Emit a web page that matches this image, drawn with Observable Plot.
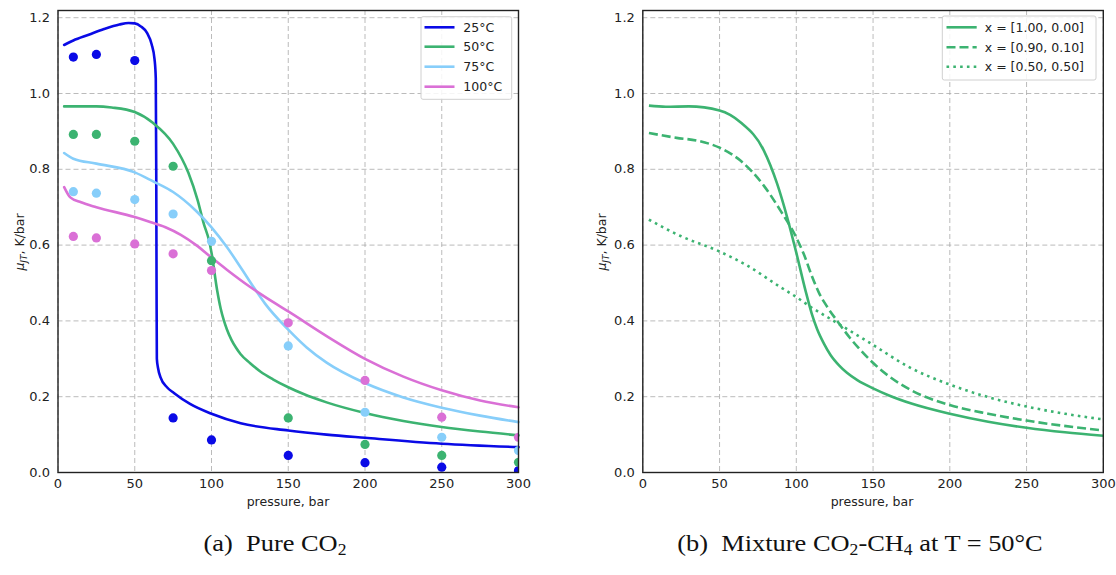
<!DOCTYPE html>
<html><head><meta charset="utf-8">
<script src="https://cdn.jsdelivr.net/npm/d3@7"></script>
<script src="https://cdn.jsdelivr.net/npm/@observablehq/plot@0.6"></script>
<style>
body{margin:0;background:#fff;}
#wrap{position:relative;width:1116px;height:575px;font-family:"DejaVu Sans",sans-serif;overflow:hidden;}
.panel{position:absolute;top:0;}
.caption{position:absolute;top:530px;font-family:"Liberation Serif","Times New Roman",serif;font-size:24px;color:#111;white-space:nowrap;transform:translateX(-50%) scaleX(1.1);}
.caption sub{font-size:16px;vertical-align:-4px;line-height:0;}
</style></head><body><div id="wrap"></div>
<script>
// ---- tick values ----
const xTicks = [0, 50, 100, 150, 200, 250, 300];
const yTicks = [0, 0.2, 0.4, 0.6, 0.8, 1.0, 1.2];

// ---- panel (a): pure CO2, experimental points ----
const pExp = [10, 25, 50, 75, 100, 150, 200, 250, 300];
const exp25 = [1.096, 1.103, 1.087, 0.144, 0.086, 0.045, 0.026, 0.014, 0.005];
const exp50 = [0.892, 0.892, 0.874, 0.808, 0.559, 0.144, 0.074, 0.045, 0.027];
const exp75 = [0.741, 0.737, 0.720, 0.682, 0.610, 0.334, 0.159, 0.093, 0.058];
const exp100 = [0.623, 0.619, 0.603, 0.577, 0.533, 0.395, 0.243, 0.146, 0.093];

// ---- panel (a): model curves ----
const p25 = [4, 10, 20, 30, 40, 46, 50, 54, 58, 61, 62.9, 63.7, 64, 64.2, 64.4, 65.2, 66.8, 71, 75.5, 86, 100, 119, 150, 175, 200, 250, 300];
const mu25 = [1.128, 1.14, 1.155, 1.17, 1.182, 1.186, 1.185, 1.177, 1.16, 1.13, 1.09, 1.04, 0.8, 0.5, 0.3, 0.275, 0.251, 0.225, 0.21, 0.181, 0.155, 0.13, 0.111, 0.1, 0.0915, 0.076, 0.067];
const p50 = [4, 15, 25, 35, 50, 62, 75, 85, 91, 95, 98.4, 100, 103.7, 106, 108, 110, 113, 116, 119, 125, 132, 140, 150, 160, 175, 200, 225, 250, 275, 300];
const mu50 = [0.966, 0.966, 0.966, 0.963, 0.951, 0.922, 0.867, 0.79, 0.718, 0.656, 0.612, 0.58, 0.48, 0.432, 0.402, 0.378, 0.35, 0.329, 0.312, 0.289, 0.266, 0.246, 0.225, 0.207, 0.185, 0.157, 0.136, 0.12, 0.108, 0.098];
const p75 = [4, 10, 25, 50, 62, 75, 90, 100, 110, 120, 127.6, 135, 150, 162, 175, 200, 225, 250, 275, 300];
const mu75 = [0.843, 0.828, 0.815, 0.792, 0.768, 0.74, 0.69, 0.647, 0.595, 0.535, 0.488, 0.445, 0.377, 0.33, 0.29, 0.236, 0.198, 0.171, 0.15, 0.133];
const p100 = [4, 8, 15, 25, 50, 60, 70, 80, 90, 100, 110, 125, 140, 150, 175, 200, 225, 250, 275, 300];
const mu100 = [0.753, 0.726, 0.713, 0.70, 0.674, 0.661, 0.647, 0.627, 0.600, 0.567, 0.535, 0.49, 0.45, 0.425, 0.36, 0.300, 0.253, 0.217, 0.19, 0.172];

// ---- panel (b): CO2-CH4 mixture at 50°C ----
const pMixA = [4, 15, 30, 50, 63.6, 78.8, 87.5, 94, 100, 106, 110, 113.6, 118, 122.3, 128, 133, 140, 150, 160, 175, 200, 225, 250, 275, 300];
const muMixA = [0.968, 0.965, 0.966, 0.955, 0.924, 0.85, 0.762, 0.674, 0.58, 0.48, 0.42, 0.378, 0.34, 0.31, 0.282, 0.263, 0.243, 0.222, 0.204, 0.182, 0.155, 0.134, 0.118, 0.106, 0.097];
const pMixB = [4, 22, 35, 50, 63.6, 78.8, 89.7, 100, 105, 110, 115, 120, 126.6, 135, 148, 160, 174.4, 200, 225, 250, 300];
const muMixB = [0.896, 0.883, 0.876, 0.857, 0.823, 0.757, 0.691, 0.62, 0.575, 0.52, 0.472, 0.438, 0.4, 0.355, 0.297, 0.255, 0.218, 0.178, 0.155, 0.137, 0.111];
const pMixC = [4, 24.6, 50, 68, 89.7, 100, 109.3, 122.3, 148.3, 174.4, 200, 225, 250, 275, 300];
const muMixC = [0.667, 0.624, 0.583, 0.546, 0.489, 0.463, 0.437, 0.405, 0.341, 0.276, 0.232, 0.199, 0.174, 0.155, 0.14];

// ---- series labels & colours ----
const tempLabels = ["25°C", "50°C", "75°C", "100°C"];
const tempColors = ["#0a0ae6", "#3cb371", "#87cefa", "#da70d6"];
const mixLabels = ["x = [1.00, 0.00]", "x = [0.90, 0.10]", "x = [0.50, 0.50]"];
const mixDash = [null, "9,4", "2.6,4.2"];
const mixColor = "#3cb371";

const zip = (ps, vs, s) => ps.map((p, i) => ({p, v: vs[i], s}));

const curvesA = [zip(p25, mu25, 0), zip(p50, mu50, 1), zip(p75, mu75, 2), zip(p100, mu100, 3)];
const pointsA = [exp25, exp50, exp75, exp100].map((e, i) => zip(pExp, e, i));
const curvesB = [zip(pMixA, muMixA, 0), zip(pMixB, muMixB, 1), zip(pMixC, muMixC, 2)];

const H = 520, MT = 10, MB = 48;

function basePlot(width, marginLeft, marginRight, marks) {
  return Plot.plot({
    width, height: H, marginTop: MT, marginBottom: MB, marginLeft, marginRight,
    style: {fontFamily: "DejaVu Sans, sans-serif", fontSize: "13px", color: "#222", background: "transparent"},
    x: {domain: [0, 300]},
    y: {domain: [0, 1.219]},
    marks: [
      Plot.ruleX(xTicks, {x: d => d, stroke: "#aaa", strokeWidth: 0.8, strokeDasharray: "5,3"}),
      Plot.ruleY(yTicks, {y: d => d, stroke: "#aaa", strokeWidth: 0.8, strokeDasharray: "5,3"}),
      ...marks,
      Plot.frame({stroke: "#222", strokeWidth: 1.4}),
      Plot.axisX({ticks: xTicks, tickSize: 0, tickPadding: 6, label: null}),
      Plot.axisY({ticks: yTicks, tickFormat: d3.format(".1f"), tickSize: 0, tickPadding: 8, label: null})
    ]
  });
}

function addLabels(svg, yLabelX, xCenter) {
  const s = d3.select(svg);
  s.append("text").attr("x", xCenter).attr("y", 506).attr("text-anchor", "middle")
    .attr("font-size", 12.5).attr("fill", "#222").text("pressure, bar");
  const t = s.append("text").attr("transform", `translate(${yLabelX},242) rotate(-90)`)
    .attr("text-anchor", "middle").attr("font-size", 12.5).attr("fill", "#222");
  t.append("tspan").attr("font-style", "italic").text("μ");
  t.append("tspan").attr("font-style", "italic").attr("font-size", 9).attr("dy", 3).text("JT");
  t.append("tspan").attr("dy", -3).text(", K/bar");
}

function addLegend(svg, box, rowY, sampleX, textX, items) {
  const s = d3.select(svg).append("g").attr("text-anchor", "start");
  s.append("rect").attr("x", box[0]).attr("y", box[1]).attr("width", box[2]).attr("height", box[3])
    .attr("rx", 2).attr("fill", "#fff").attr("fill-opacity", 0.85).attr("stroke", "#d0d0d0").attr("stroke-width", 1);
  items.forEach((it, i) => {
    const y = rowY[i];
    s.append("line").attr("x1", sampleX[0]).attr("x2", sampleX[1]).attr("y1", y).attr("y2", y)
      .attr("stroke", it.color).attr("stroke-width", 2.6).attr("stroke-dasharray", it.dash || null);
    s.append("text").attr("x", textX).attr("y", y).attr("dy", "0.35em").attr("font-size", 12.5)
      .attr("text-anchor", "start").attr("fill", "#222").text(it.label);
  });
}

const wrap = document.getElementById("wrap");

// Panel (a)
const plotA = basePlot(560, 57.5, 42, [
  ...curvesA.map((c, i) => Plot.line(c, {x: "p", y: "v", stroke: tempColors[i], strokeWidth: 2.6, curve: "monotone-x"})),
  ...pointsA.map((c, i) => Plot.dot(c, {x: "p", y: "v", fill: tempColors[i], r: 4.6, clip: true}))
]);
plotA.classList.add("panel");
plotA.style.left = "0px";
wrap.appendChild(plotA);
addLabels(plotA, 23.5, 288);
addLegend(plotA, [421, 16.7, 90.7, 82.6], [27.3, 46.7, 66.7, 86.7], [424.5, 454.5], 463.3,
  tempLabels.map((l, i) => ({label: l, color: tempColors[i]})));

// Panel (b)
const plotB = basePlot(556, 82.3, 13.2, [
  ...curvesB.map((c, i) => Plot.line(c, {x: "p", y: "v", stroke: mixColor, strokeWidth: 2.6, curve: "monotone-x",
    strokeDasharray: mixDash[i] || undefined, strokeLinecap: "butt"}))
]);
plotB.classList.add("panel");
plotB.style.left = "560px";
wrap.appendChild(plotB);
addLabels(plotB, 46, 312);
addLegend(plotB, [382.3, 16, 153.7, 64], [27.3, 47.3, 66.7], [386.5, 416.7], 424.8,
  mixLabels.map((l, i) => ({label: l, color: mixColor, dash: mixDash[i]})));

// Captions
const capA = document.createElement("div");
capA.className = "caption"; capA.style.left = "275px";
capA.innerHTML = "(a)&nbsp; Pure CO<sub>2</sub>";
wrap.appendChild(capA);
const capB = document.createElement("div");
capB.className = "caption"; capB.style.left = "860px";
capB.innerHTML = "(b)&nbsp; Mixture CO<sub>2</sub>-CH<sub>4</sub> at T = 50°C";
wrap.appendChild(capB);
</script>
</body></html>
